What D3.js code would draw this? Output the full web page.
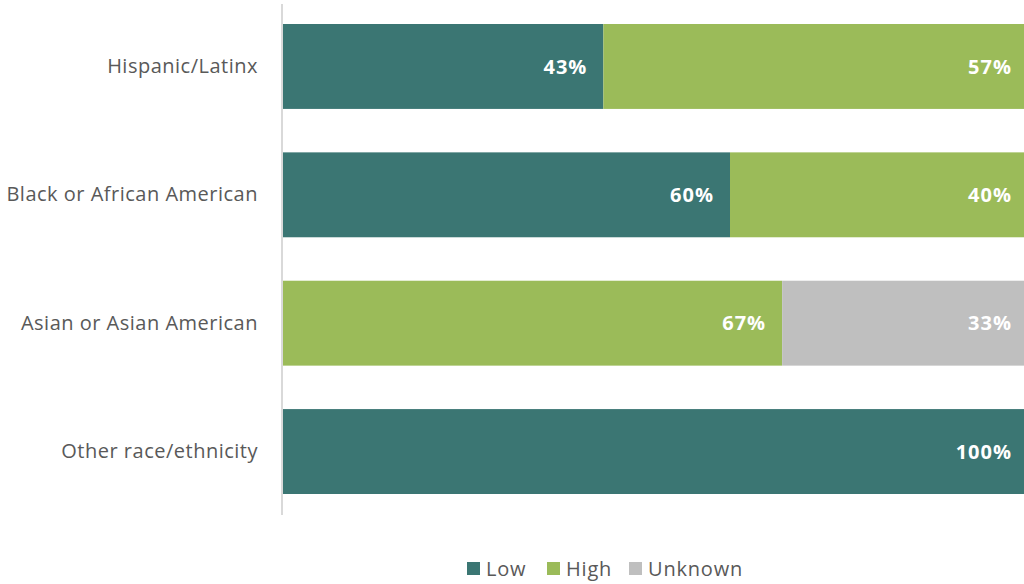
<!DOCTYPE html>
<html>
<head>
<meta charset="utf-8">
<script src="https://cdn.jsdelivr.net/npm/d3@7"></script>
<style>
  html, body { margin: 0; padding: 0; background: #fff; overflow: hidden; }
  svg { display: block; }
</style>
</head>
<body>
<svg id="chart" width="1024" height="584"></svg>
<script>
// Share of each group by level (percent)
const categories = ["Hispanic/Latinx", "Black or African American", "Asian or Asian American", "Other race/ethnicity"];
const seriesNames = ["Low", "High", "Unknown"];
const lowValues = [43, 60, 0, 100];
const highValues = [57, 40, 67, 0];
const unknownValues = [0, 0, 33, 0];
const seriesColors = ["#3b7673", "#9bbb59", "#bfbfbf"];

const rows = categories.map((c, i) => ({
  category: c,
  Low: lowValues[i],
  High: highValues[i],
  Unknown: unknownValues[i]
}));

const svg = d3.select("#chart");
const fontFamily = "'Open Sans', Lato, sans-serif";

const x = d3.scaleLinear().domain([0, 100]).range([283, 1028]);
const y = d3.scaleBand().domain(categories).range([-14.5, 532.5]).paddingInner(0.3385).paddingOuter(0.3);

const stack = d3.stack().keys(seriesNames);
const layers = stack(rows);
const color = d3.scaleOrdinal().domain(seriesNames).range(seriesColors);

// Stacked bars
const layerG = svg.append("g").selectAll("g")
  .data(layers)
  .join("g")
  .attr("fill", d => color(d.key));

layerG.selectAll("rect")
  .data(d => d.map(v => ({ key: d.key, v })))
  .join("rect")
  .filter(d => d.v[1] - d.v[0] > 0)
  .attr("x", d => x(d.v[0]))
  .attr("y", d => y(d.v.data.category))
  .attr("width", d => x(d.v[1]) - x(d.v[0]))
  .attr("height", y.bandwidth());

// Value labels at the inner end of each segment
layerG.selectAll("text")
  .data(d => d.map(v => ({ key: d.key, v })))
  .join("text")
  .filter(d => d.v[1] - d.v[0] > 0)
  .attr("x", d => x(d.v[1]) - 16)
  .attr("y", d => y(d.v.data.category) + y.bandwidth() / 2)
  .attr("dy", "0.36em")
  .attr("text-anchor", "end")
  .attr("fill", "#ffffff")
  .attr("font-family", fontFamily)
  .attr("font-weight", "bold")
  .attr("font-size", "20px")
  .attr("letter-spacing", "1px")
  .text(d => (d.v[1] - d.v[0]) + "%");

// Category axis
const yAxis = svg.append("g")
  .attr("transform", "translate(282,0)")
  .call(d3.axisLeft(y).tickSize(0).tickPadding(24));
yAxis.select(".domain").remove();
yAxis.append("line")
  .attr("x1", 0).attr("x2", 0)
  .attr("y1", 4).attr("y2", 515)
  .attr("stroke", "#d9d9d9")
  .attr("stroke-width", 2);
yAxis.selectAll("text")
  .attr("fill", "#595959")
  .attr("font-family", fontFamily)
  .attr("font-size", "20px")
  .attr("letter-spacing", "0.5px");

// Legend
const legendX = [467, 547, 629];
const legend = svg.append("g").selectAll("g")
  .data(seriesNames)
  .join("g")
  .attr("transform", (d, i) => `translate(${legendX[i]},562)`);
legend.append("rect")
  .attr("width", 13).attr("height", 13)
  .attr("fill", d => color(d));
legend.append("text")
  .attr("x", 19)
  .attr("y", 6.5)
  .attr("dy", "0.36em")
  .attr("fill", "#595959")
  .attr("font-family", fontFamily)
  .attr("font-size", "20px")
  .attr("letter-spacing", "0.8px")
  .text(d => d);
</script>
</body>
</html>
